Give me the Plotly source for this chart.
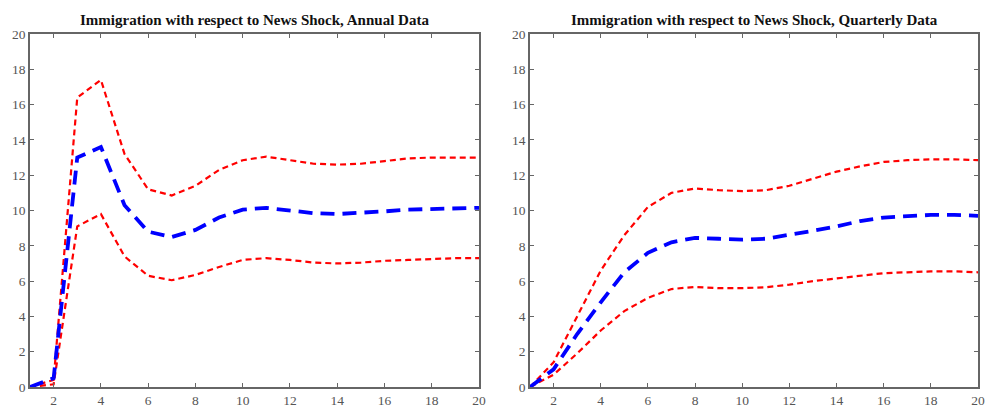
import plotly.graph_objects as go
from plotly.subplots import make_subplots

horizon = list(range(1, 21))

annual_mean = [0, 0.5, 13.0, 13.6, 10.3, 8.8, 8.5, 8.9, 9.6, 10.05, 10.15, 10.0, 9.85, 9.8, 9.85, 9.95, 10.05, 10.1, 10.15, 10.15]
annual_upper = [0, 0.4, 16.4, 17.4, 13.2, 11.2, 10.85, 11.4, 12.3, 12.85, 13.05, 12.85, 12.65, 12.6, 12.65, 12.8, 12.95, 13.0, 13.0, 13.0]
annual_lower = [0, 0.15, 9.1, 9.8, 7.4, 6.3, 6.05, 6.35, 6.8, 7.2, 7.3, 7.2, 7.05, 7.0, 7.05, 7.15, 7.2, 7.25, 7.3, 7.3]

quarterly_mean = [0, 1.0, 3.0, 4.8, 6.5, 7.6, 8.2, 8.45, 8.4, 8.35, 8.4, 8.6, 8.85, 9.1, 9.4, 9.6, 9.7, 9.75, 9.75, 9.7]
quarterly_upper = [0, 1.4, 4.0, 6.6, 8.6, 10.2, 11.0, 11.25, 11.15, 11.1, 11.15, 11.4, 11.8, 12.2, 12.5, 12.75, 12.85, 12.9, 12.9, 12.85]
quarterly_lower = [0, 0.7, 1.9, 3.2, 4.3, 5.05, 5.55, 5.67, 5.6, 5.6, 5.65, 5.8, 6.0, 6.15, 6.3, 6.45, 6.5, 6.55, 6.55, 6.5]

titles = ["Immigration with respect to News Shock, Annual Data",
          "Immigration with respect to News Shock, Quarterly Data"]

y_ticks = list(range(0, 21, 2))
x_ticks = list(range(2, 21, 2))

fig = make_subplots(rows=1, cols=2, horizontal_spacing=0.0)

red_line = dict(color="#ff0000", width=2.2, dash="6px,4px")
blue_line = dict(color="#0000ff", width=3.8, dash="14px,8px")

for col, (m, u, l) in enumerate([(annual_mean, annual_upper, annual_lower),
                                 (quarterly_mean, quarterly_upper, quarterly_lower)], start=1):
    fig.add_trace(go.Scatter(x=horizon, y=u, mode="lines", line=red_line, showlegend=False), row=1, col=col)
    fig.add_trace(go.Scatter(x=horizon, y=l, mode="lines", line=red_line, showlegend=False), row=1, col=col)
    fig.add_trace(go.Scatter(x=horizon, y=m, mode="lines", line=blue_line, showlegend=False), row=1, col=col)

axis_common = dict(showgrid=False, zeroline=False, showline=True, linecolor="#666666", linewidth=1.5,
                   mirror="ticks", ticks="inside", ticklen=4, tickcolor="#666666", automargin=False,
                   tickfont=dict(family="Liberation Serif", size=13.5, color="#555555"))

W = 986 - 30 - 8
d1 = [0, (479 - 30) / W]
d2 = [(530 - 30) / W, 1]

fig.update_xaxes(range=[1, 20], tickvals=x_ticks, **axis_common)
fig.update_yaxes(range=[0, 20], tickvals=y_ticks, **axis_common)
fig.update_layout(xaxis=dict(domain=d1), xaxis2=dict(domain=d2))

for i, t in enumerate(titles):
    d = d1 if i == 0 else d2
    fig.add_annotation(text="<b>" + t + "</b>", x=(d[0] + d[1]) / 2, y=1.0, xref="paper", yref="paper",
                       xanchor="center", yanchor="bottom", yshift=4, showarrow=False,
                       font=dict(family="Liberation Serif", size=15, color="#111111"))

fig.update_layout(width=986, height=408, margin=dict(l=30, r=8, t=34, b=21, autoexpand=False),
                  plot_bgcolor="white", paper_bgcolor="white")

fig.write_html("out.html")
